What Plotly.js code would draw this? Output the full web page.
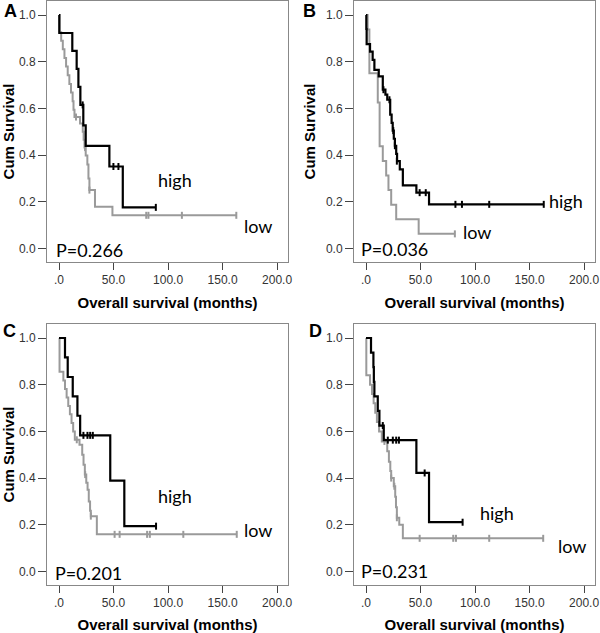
<!DOCTYPE html>
<html>
<head>
<meta charset="utf-8">
<script src="https://cdn.plot.ly/plotly-3.0.1.min.js"></script>
<style>html,body{margin:0;padding:0;background:#fff}#chart{width:600px;height:633px}</style>
</head>
<body>
<div id="chart"></div>
<script>
// ---------- data ----------
const xTickVals = [0, 50, 100, 150, 200];
const xTickText = ['.0', '50.0', '100.0', '150.0', '200.0'];
const yTickVals = [0, 0.2, 0.4, 0.6, 0.8, 1.0];
const yTickText = ['0.0', '0.2', '0.4', '0.6', '0.8', '1.0'];
const panelLetters = ['A', 'B', 'C', 'D'];
const pValues = ['P=0.266', 'P=0.036', 'P=0.201', 'P=0.231'];
const groupNames = ['high', 'low'];

// Panel A
const aHighT = [0, 0.3, 12.2, 16.2, 17.8, 19.6, 22.3, 24.5, 46.2, 58.5, 88.8];
const aHighS = [1.0, 0.923, 0.846, 0.769, 0.692, 0.615, 0.527, 0.439, 0.351, 0.176, 0.176];
const aHighCT = [21.7, 49.9, 54.5, 88.8];
const aHighCS = [0.615, 0.351, 0.351, 0.176];
const aLowT = [0, 0.5, 2, 3.5, 5, 6.5, 8, 9.5, 11, 12.5, 13.3, 14.2, 19.3, 21.8, 22.6, 23.4, 24.5, 26, 27, 27.9, 33, 49, 162.6];
const aLowS = [1.0, 0.926, 0.89, 0.853, 0.816, 0.779, 0.742, 0.705, 0.668, 0.631, 0.594, 0.563, 0.535, 0.5, 0.466, 0.432, 0.398, 0.36, 0.3, 0.25, 0.179, 0.142, 0.142];
const aLowCT = [15.6, 23.9, 27.9, 80, 82, 112.7, 162.6];
const aLowCS = [0.563, 0.432, 0.25, 0.142, 0.142, 0.142, 0.142];

// Panel B
const bHighT = [0, 0.3, 0.6, 3.7, 6.1, 7.7, 11.7, 15.4, 17.8, 19.5, 22.2, 23.5, 24.5, 25.5, 26.5, 27.7, 28.5, 31, 33.8, 46.2, 57.8, 163];
const bHighS = [1.0, 0.94, 0.875, 0.843, 0.808, 0.765, 0.737, 0.68, 0.659, 0.637, 0.573, 0.538, 0.505, 0.47, 0.44, 0.405, 0.374, 0.339, 0.27, 0.239, 0.189, 0.189];
const bHighCT = [16, 21.5, 25, 26.5, 28.3, 49.2, 54.8, 82, 88, 113, 163];
const bHighCS = [0.68, 0.637, 0.505, 0.44, 0.374, 0.239, 0.239, 0.189, 0.189, 0.189, 0.189];
const bLowT = [0, 1.5, 3.1, 10.8, 12.5, 15.4, 18.5, 20.6, 23.1, 27.7, 48.3, 81.5];
const bLowS = [1.0, 0.9375, 0.75, 0.625, 0.4375, 0.375, 0.3125, 0.25, 0.1875, 0.125, 0.0625, 0.0625];
const bLowCT = [81.5];
const bLowCS = [0.0625];

// Panel C
const cHighT = [0, 5.5, 8, 12.6, 16.9, 19.4, 47, 59.9, 89];
const cHighS = [1.0, 0.917, 0.833, 0.75, 0.667, 0.583, 0.389, 0.194, 0.194];
const cHighCT = [22.4, 26.1, 28.6, 31, 89];
const cHighCS = [0.583, 0.583, 0.583, 0.583, 0.194];
const cLowT = [0, 0.5, 4, 5.5, 7, 8.5, 10, 11.5, 13, 14.5, 18.8, 21.3, 22.5, 23.7, 25, 26.2, 27.3, 28.5, 29.2, 34.7, 163];
const cLowS = [1.0, 0.855, 0.818, 0.782, 0.745, 0.709, 0.673, 0.636, 0.6, 0.564, 0.543, 0.5, 0.457, 0.415, 0.38, 0.35, 0.3, 0.26, 0.237, 0.159, 0.159];
const cLowCT = [16.3, 24, 29.2, 51, 55.6, 80.8, 83.3, 114, 163];
const cLowCS = [0.564, 0.415, 0.237, 0.159, 0.159, 0.159, 0.159, 0.159, 0.159];

// Panel D
const dHighT = [0, 4.6, 6.8, 7.2, 7.7, 10.8, 12.3, 16.3, 46.2, 57.8, 88.6];
const dHighS = [1.0, 0.9375, 0.875, 0.8125, 0.75, 0.6875, 0.625, 0.5625, 0.4219, 0.2109, 0.2109];
const dHighCT = [15.4, 20, 24.6, 27.7, 30.2, 53.8, 88.6];
const dHighCS = [0.625, 0.5625, 0.5625, 0.5625, 0.5625, 0.4219, 0.2109];
const dLowT = [0, 0.3, 3.7, 5.5, 7, 8.5, 10, 12, 14.5, 19.5, 21, 22.3, 23.1, 25.5, 26.8, 27.5, 28.3, 30.5, 33.8, 162.5];
const dLowS = [1.0, 0.84, 0.8, 0.76, 0.72, 0.68, 0.64, 0.6, 0.557, 0.515, 0.47, 0.43, 0.4, 0.365, 0.32, 0.275, 0.23, 0.2, 0.142, 0.142];
const dLowCT = [16.9, 23.1, 26, 28.3, 49.2, 80, 82.5, 113, 162.5];
const dLowCS = [0.557, 0.4, 0.365, 0.23, 0.142, 0.142, 0.142, 0.142, 0.142];

// ---------- build ----------
const panels = [
  {high: [aHighT, aHighS, aHighCT, aHighCS], low: [aLowT, aLowS, aLowCT, aLowCS]},
  {high: [bHighT, bHighS, bHighCT, bHighCS], low: [bLowT, bLowS, bLowCT, bLowCS]},
  {high: [cHighT, cHighS, cHighCT, cHighCS], low: [cLowT, cLowS, cLowCT, cLowCS]},
  {high: [dHighT, dHighS, dHighCT, dHighCS], low: [dLowT, dLowS, dLowCT, dLowCS]}
];
const colors = {high: '#000000', low: '#9a9a9a'};
const widths = {high: 2.2, low: 2};

const W = 600, H = 633;
// pixel boxes of plot frames: [left, right, top, bottom]
const boxes = [[47, 288, 1, 262], [354, 595, 1, 262], [47, 288, 324, 585], [354, 595, 324, 585]];

const traces = [];
panels.forEach((p, i) => {
  const xa = 'x' + (i === 0 ? '' : i + 1), ya = 'y' + (i === 0 ? '' : i + 1);
  ['low', 'high'].forEach(g => {
    const [t, s, ct, cs] = p[g];
    traces.push({x: t, y: s, xaxis: xa, yaxis: ya, mode: 'lines', name: g,
      line: {shape: 'hv', color: colors[g], width: widths[g]}, hoverinfo: 'skip'});
    traces.push({x: ct, y: cs, xaxis: xa, yaxis: ya, mode: 'markers', name: g + ' censored',
      marker: {symbol: 'line-ns', size: 5, color: colors[g], line: {color: colors[g], width: 2}}, hoverinfo: 'skip'});
  });
});

const tickFont = {family: 'Liberation Sans, Arial, sans-serif', size: 12, color: '#333'};
const titleFont = {family: 'Liberation Sans, Arial, sans-serif', size: 15, color: '#000', weight: 'bold'};
const layout = {
  width: W, height: H, margin: {l: 0, r: 0, t: 0, b: 0},
  paper_bgcolor: '#fff', plot_bgcolor: '#fff', showlegend: false,
  annotations: []
};
const labelPos = [
  {high: [106.4, 0.293], low: [182.5, 0.098], p: [-5, -0.006]},
  {high: [183.7, 0.202], low: [102, 0.07], p: [-6.1, -0.003]},
  {high: [106.4, 0.322], low: [182.5, 0.176], p: [-5.5, -0.007]},
  {high: [120.4, 0.251], low: [189.2, 0.107], p: [-6.1, 0.0]}
];
const letterPos = [[10, 11], [309, 11], [9, 331], [315, 331]];
boxes.forEach((b, i) => {
  const sx = i === 0 ? '' : String(i + 1);
  layout['xaxis' + sx] = {
    domain: [b[0] / W, b[1] / W], anchor: 'y' + sx, range: [-11, 210],
    tickvals: xTickVals, ticktext: xTickText, ticks: 'outside', ticklen: 7, tickcolor: '#444', tickwidth: 1,
    showline: true, linecolor: '#888', linewidth: 1, mirror: true, showgrid: false, zeroline: false,
    tickfont: tickFont, fixedrange: true,
    title: {text: 'Overall survival (months)', font: titleFont, standoff: 11}
  };
  layout['yaxis' + sx] = {
    domain: [1 - b[3] / H, 1 - b[2] / H], anchor: 'x' + sx, range: [-0.058, 1.06],
    tickvals: yTickVals, ticktext: yTickText, ticks: 'outside', ticklen: 8, tickcolor: '#444', tickwidth: 1,
    showline: true, linecolor: '#888', linewidth: 1, mirror: true, showgrid: false, zeroline: false,
    tickfont: tickFont, fixedrange: true,
    title: {text: i === 3 ? '' : 'Cum Survival', font: titleFont, standoff: 6}
  };
  const xr = 'x' + sx, yr = 'y' + sx;
  const lp = labelPos[i];
  const txtFont = {family: 'Lato, sans-serif', size: 18, color: '#000'};
  layout.annotations.push({xref: xr, yref: yr, x: lp.high[0], y: lp.high[1], text: groupNames[0], showarrow: false, font: txtFont, xanchor: 'center', yanchor: 'middle'});
  layout.annotations.push({xref: xr, yref: yr, x: lp.low[0], y: lp.low[1], text: groupNames[1], showarrow: false, font: txtFont, xanchor: 'center', yanchor: 'middle'});
  layout.annotations.push({xref: xr, yref: yr, x: lp.p[0], y: lp.p[1], text: pValues[i], showarrow: false, font: txtFont, xanchor: 'left', yanchor: 'middle'});
  layout.annotations.push({xref: 'paper', yref: 'paper', x: letterPos[i][0] / W, y: 1 - letterPos[i][1] / H, text: panelLetters[i], showarrow: false,
    font: {family: 'Liberation Sans, Arial, sans-serif', size: 18, color: '#000', weight: 'bold'}, xanchor: 'center', yanchor: 'middle'});
});

Plotly.newPlot('chart', traces, layout, {staticPlot: true, displayModeBar: false});
</script>
</body>
</html>
